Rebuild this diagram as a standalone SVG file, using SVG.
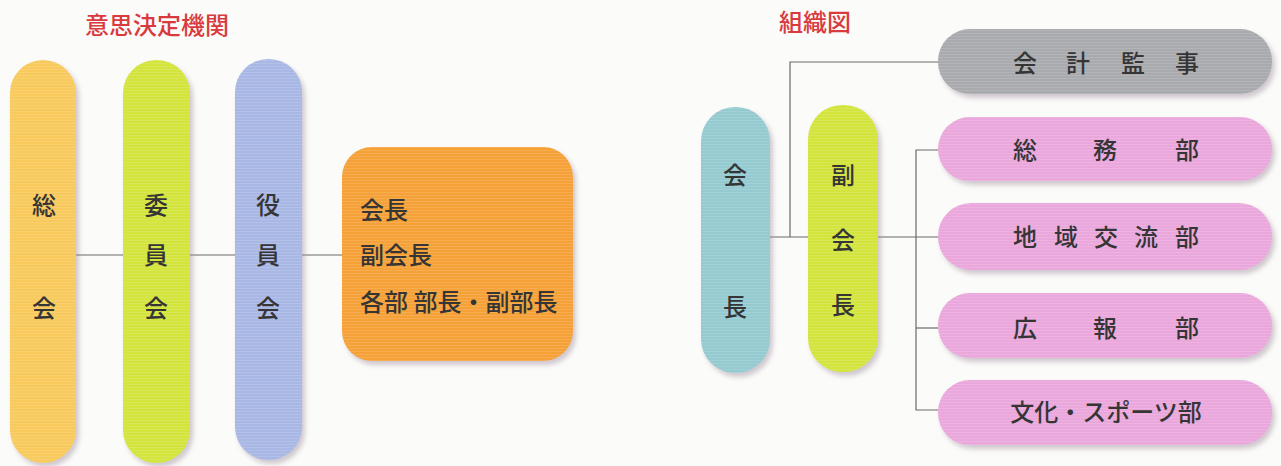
<svg xmlns="http://www.w3.org/2000/svg" width="1281" height="466" viewBox="0 0 1281 466">
<style>
  .t { font-family: "Noto Sans CJK JP", "Noto Sans", sans-serif; fill: #353535; font-size: 24px; font-weight: 500; }
  .title { font-family: "Noto Sans CJK JP", "Noto Sans", sans-serif; fill: #d93a3e; font-size: 24px; font-weight: 500; }
  .ln { stroke: #6a6a6a; stroke-width: 1.2; fill: none; }
  .yel { fill: #f8c95c; }
  .grn { fill: #d3e43c; }
  .blu { fill: #a9b7e4; }
  .org { fill: #f5a137; }
  .tea { fill: #95cad1; }
  .gry { fill: #a9aaae; }
  .pnk { fill: #eaa7dc; }
</style>
<defs>
  <filter id="sh" x="-20%" y="-20%" width="140%" height="140%">
    <feDropShadow dx="3" dy="4" stdDeviation="2.5" flood-color="#9a8a9a" flood-opacity="0.45"/>
  </filter>
  <pattern id="stripe" width="4" height="3" patternUnits="userSpaceOnUse">
    <rect x="0" y="0" width="4" height="1" fill="#ffffff" fill-opacity="0.12"/>
  </pattern>
</defs>
<rect width="1281" height="466" fill="#fbfbf9"/>

<text class="title" x="85" y="34">意思決定機関</text>
<text class="title" x="779" y="31" font-size="23">組織図</text>

<g id="connectors">
  <line class="ln" x1="76" y1="255" x2="123" y2="255"/>
  <line class="ln" x1="190" y1="255" x2="235" y2="255"/>
  <line class="ln" x1="302" y1="255" x2="342" y2="255"/>
  <line class="ln" x1="770" y1="237" x2="808" y2="237"/>
  <polyline class="ln" points="790,237 790,62 938,62"/>
  <line class="ln" x1="878" y1="237" x2="938" y2="237"/>
  <polyline class="ln" points="938,150 916,150 916,410 938,410"/>
  <line class="ln" x1="916" y1="328" x2="938" y2="328"/>
</g>

<g id="soukai">
  <rect class="yel" x="10" y="60" width="66" height="403" rx="33" filter="url(#sh)"/>
  <rect x="10" y="60" width="66" height="403" rx="33" fill="url(#stripe)"/>
  <text class="t" x="44" y="214" text-anchor="middle">総</text>
  <text class="t" x="44" y="317" text-anchor="middle">会</text>
</g>
<g id="iinkai">
  <rect class="grn" x="123" y="60" width="67" height="403" rx="33" filter="url(#sh)"/>
  <rect x="123" y="60" width="67" height="403" rx="33" fill="url(#stripe)"/>
  <text class="t" x="156" y="214" text-anchor="middle">委</text>
  <text class="t" x="156" y="264" text-anchor="middle">員</text>
  <text class="t" x="156" y="317" text-anchor="middle">会</text>
</g>
<g id="yakuinkai">
  <rect class="blu" x="235" y="59" width="67" height="401" rx="33" filter="url(#sh)"/>
  <rect x="235" y="59" width="67" height="401" rx="33" fill="url(#stripe)"/>
  <text class="t" x="268" y="214" text-anchor="middle">役</text>
  <text class="t" x="268" y="264" text-anchor="middle">員</text>
  <text class="t" x="268" y="317" text-anchor="middle">会</text>
</g>
<g id="officers">
  <rect class="org" x="342" y="147" width="231" height="214" rx="30" filter="url(#sh)"/>
  <rect x="342" y="147" width="231" height="214" rx="30" fill="url(#stripe)"/>
  <text class="t" x="360" y="219">会長</text>
  <text class="t" x="360" y="264">副会長</text>
  <text class="t" x="360" y="311">各部 部長・副部長</text>
</g>

<g id="kaicho">
  <rect class="tea" x="701" y="107" width="69" height="266" rx="34" filter="url(#sh)"/>
  <rect x="701" y="107" width="69" height="266" rx="34" fill="url(#stripe)"/>
  <text class="t" x="735" y="184" text-anchor="middle">会</text>
  <text class="t" x="735" y="316" text-anchor="middle">長</text>
</g>
<g id="fukukaicho">
  <rect class="grn" x="808" y="105" width="70" height="267" rx="34" filter="url(#sh)"/>
  <rect x="808" y="105" width="70" height="267" rx="34" fill="url(#stripe)"/>
  <text class="t" x="843" y="184" text-anchor="middle">副</text>
  <text class="t" x="843" y="249" text-anchor="middle">会</text>
  <text class="t" x="843" y="314" text-anchor="middle">長</text>
</g>
<g id="kaikei">
  <rect class="gry" x="938" y="29" width="334" height="65" rx="32" filter="url(#sh)"/>
  <rect x="938" y="29" width="334" height="65" rx="32" fill="url(#stripe)"/>
  <text class="t" x="1025 1078 1133 1187" y="72" text-anchor="middle">会計監事</text>
</g>
<g id="somu">
  <rect class="pnk" x="938" y="117" width="334" height="64" rx="32" filter="url(#sh)"/>
  <rect x="938" y="117" width="334" height="64" rx="32" fill="url(#stripe)"/>
  <text class="t" x="1025 1105 1187" y="159" text-anchor="middle">総務部</text>
</g>
<g id="chiiki">
  <rect class="pnk" x="938" y="203" width="334" height="67" rx="33" filter="url(#sh)"/>
  <rect x="938" y="203" width="334" height="67" rx="33" fill="url(#stripe)"/>
  <text class="t" x="1025 1066 1106 1146 1187" y="246" text-anchor="middle">地域交流部</text>
</g>
<g id="koho">
  <rect class="pnk" x="938" y="293" width="334" height="65" rx="32" filter="url(#sh)"/>
  <rect x="938" y="293" width="334" height="65" rx="32" fill="url(#stripe)"/>
  <text class="t" x="1025 1105 1187" y="337" text-anchor="middle">広報部</text>
</g>
<g id="bunka">
  <rect class="pnk" x="938" y="380" width="334" height="65" rx="32" filter="url(#sh)"/>
  <rect x="938" y="380" width="334" height="65" rx="32" fill="url(#stripe)"/>
  <text class="t" x="1106" y="421" text-anchor="middle">文化・スポーツ部</text>
</g>
</svg>
